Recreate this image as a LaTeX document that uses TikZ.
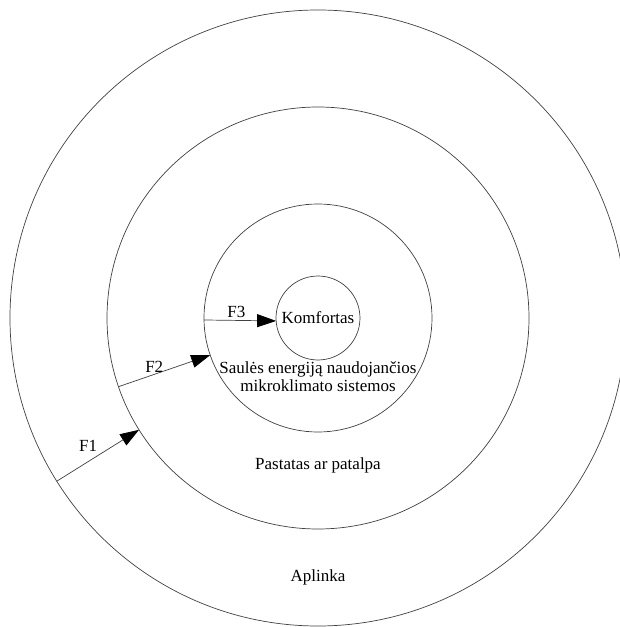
\documentclass[tikz,border=0pt]{standalone}
\usepackage{fontspec}
\setmainfont{Liberation Serif}
\usetikzlibrary{arrows.meta,positioning}

\begin{document}
\begin{tikzpicture}[x=1pt,y=1pt]
\useasboundingbox (-318,-309) rectangle (302,318);

% Draw the nested rings, from the surroundings inwards
\tikzstyle{every node}=[draw=black!75,line width=0.7pt,shape=circle,inner sep=0pt,outer sep=0pt,anchor=center];
\foreach \d/\n in {616/c1,422/c2,228/c3,84/c4}
  \node[minimum size=\d pt] (\n) at (0,0){};

% Names of the rings
\tikzstyle{every node}=[align=center,inner sep=2pt,font=\fontsize{17}{18}\selectfont];
\node (t4) at (0,0){Komfortas};
\node (t3) at (0,-59){Saulės energiją naudojančios\\mikroklimato sistemos};
\node (t2) at (0,-147){Pastatas ar patalpa};
\node (t1) at (0,-259){Aplinka};

% Flows from one ring to the next
\tikzstyle{flow}=[draw=black!75,line width=0.7pt,-{Triangle[length=19pt,width=13pt,color=black]}];
\draw[flow] (c1.212) -- (c2.212) node[pos=.38,above=8pt]{F1};
\draw[flow] (c2.199) -- (c3.199) node[pos=.39,above=0pt]{F2};
\draw[flow] (c3.181.5) -- (c4.184) node[pos=.45,above=0pt]{F3};

\end{tikzpicture}
\end{document}
